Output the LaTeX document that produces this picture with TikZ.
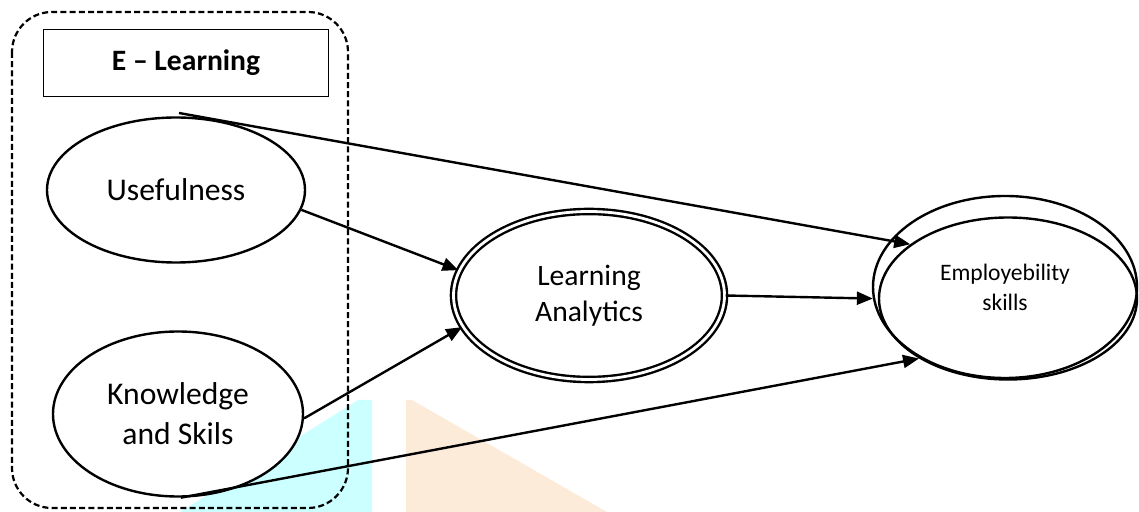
\documentclass[tikz,border=0pt]{standalone}
\usepackage{fontspec}
\setmainfont{Carlito}
\usetikzlibrary{shapes.geometric, arrows.meta}
\definecolor{wmcyan}{HTML}{CCFFFF}
\definecolor{wmpeach}{HTML}{FDEBDA}
\tikzset{
  construct/.style={ellipse, draw, line width=1.2pt, fill=white, inner sep=0pt,
                    align=center, font=\fontsize{15.8}{20}\selectfont},
  mediator/.style={construct, double, double distance=1.4pt,
                   font=\fontsize{14.8}{18}\selectfont},
  outcome/.style={construct, font=\fontsize{11.8}{15}\selectfont},
  titlebox/.style={rectangle, draw, line width=0.6pt, inner sep=0pt,
                   font=\bfseries\fontsize{14.8}{17}\selectfont},
  group/.style={draw, line width=1.1pt, dash pattern=on 3pt off 1.6pt,
                rounded corners=20pt},
  arr/.style={-{Triangle[length=8pt, width=6.5pt]}, line width=1.2pt},
}

\begin{document}
\begin{tikzpicture}[x=0.5pt, y=-0.5pt]
  \useasboundingbox (0,0) rectangle (1139,512);
  % watermark behind everything
  \fill[wmcyan] (180,512) -- (358,400) -- (372,400) -- (372,512) -- cycle;
  \fill[wmpeach] (406,512) -- (406,400) -- (412,400) -- (607,512) -- cycle;
  \draw[group] (12,12) rectangle (348,508);

  \node[titlebox, minimum width=142.5pt, minimum height=33.5pt] (elearn) at (186,63) {E – Learning};
  \node[construct, minimum width=129pt, minimum height=72.5pt] (use) at (176,190) {Usefulness};
  \node[construct, minimum width=125pt, minimum height=82.5pt] (know) at (178,414) {Knowledge\\and Skils};
  \node[mediator, minimum width=135.5pt, minimum height=84pt] (la) at (589,295.5) {Learning\\Analytics};
  \node[outcome, minimum width=132pt, minimum height=91pt] (emp) at (1005,287) {Employebility\\skills};
  \node[outcome, fill=none, minimum width=129pt, minimum height=81pt] (emp2) at (1008,298.5) {};

  % connectors
  \coordinate (ustart) at (179,113);
  \draw[arr] (ustart) -- (emp2.151);
  \draw[arr] (use.-9) -- (la.169);
  \draw[arr] (know.-2) -- (la.194);
  \draw[arr] (la.east) -- (emp.185);
  \draw[arr] (know.-88) -- (emp2.214);
\end{tikzpicture}
\end{document}
